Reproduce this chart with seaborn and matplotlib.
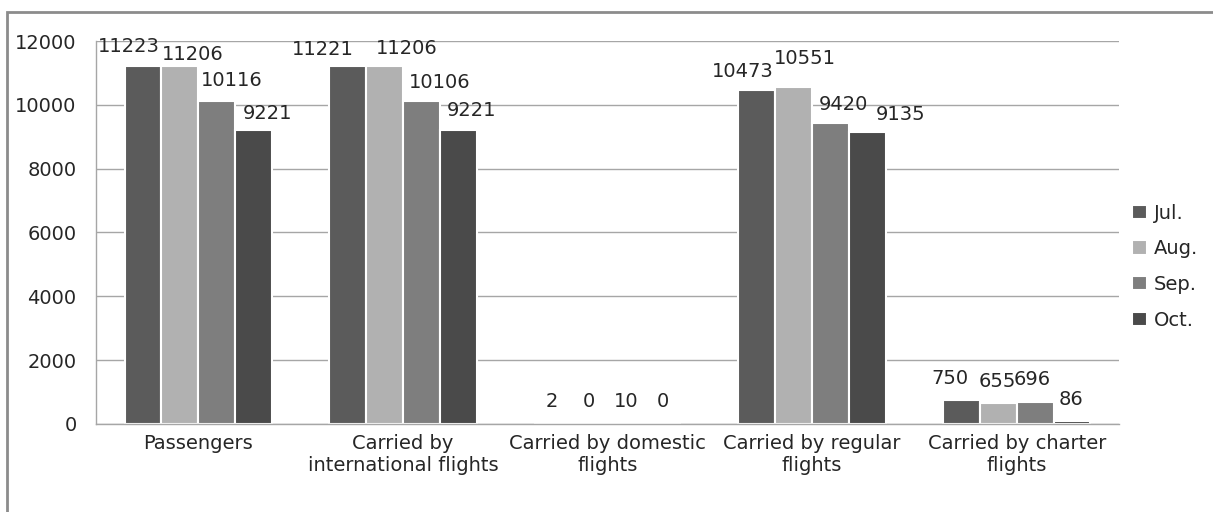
import matplotlib
matplotlib.use("Agg")
import matplotlib.pyplot as plt
from matplotlib.patches import Rectangle
import seaborn as sns
import pandas as pd

categories = ["Passengers", "Carried by\ninternational flights", "Carried by domestic\nflights",
              "Carried by regular\nflights", "Carried by charter\nflights"]
months = ["Jul.", "Aug.", "Sep.", "Oct."]
jul = [11223, 11221, 2, 10473, 750]
aug = [11206, 11206, 0, 10551, 655]
sep = [10116, 10106, 10, 9420, 696]
oct_ = [9221, 9221, 0, 9135, 86]
yticks = [0, 2000, 4000, 6000, 8000, 10000, 12000]

rows = []
for m, vals in zip(months, [jul, aug, sep, oct_]):
    for c, v in zip(categories, vals):
        rows.append({"category": c, "month": m, "value": v})
df = pd.DataFrame(rows)

sns.set_theme(style="white")
plt.rcParams["font.family"] = ["DejaVu Sans"]
text_color = "#262626"
fs = 14

fig = plt.figure(figsize=(12.13, 5.12), dpi=100)
ax = fig.add_axes([0.0791, 0.1719, 0.8434, 0.748])

palette = ["#5b5b5b", "#b1b1b1", "#7e7e7e", "#4a4a4a"]
sns.barplot(data=df, x="category", y="value", hue="month", order=categories,
            hue_order=months, palette=palette, width=0.72, saturation=1,
            edgecolor="white", linewidth=1.5, ax=ax, legend=True)

# label nudges (points) so neighbouring value labels stay readable
dx = [[-10, -18, 0, -10, -8],
      [9, 16, 0, 8, -1],
      [11, 13, 0, 9, -2],
      [10, 10, 0, 24, -1]]
dy = [[7, 5, 9, 6, 9],
      [2, 6, 9, 14, 9],
      [8, 7, 9, 7, 9],
      [5, 7, 9, 6, 9]]
for i, cont in enumerate(ax.containers):
    for j, bar in enumerate(cont):
        h = bar.get_height()
        ax.annotate(f"{int(h)}", (bar.get_x() + bar.get_width() / 2, h),
                    xytext=(dx[i][j], dy[i][j]), textcoords="offset points",
                    ha="center", va="bottom", fontsize=fs, color=text_color)

ax.set_ylim(0, 12000)
ax.set_xlim(-0.5, len(categories) - 0.5)
ax.set_yticks(yticks)
ax.set_yticklabels([str(t) for t in yticks], fontsize=fs, color=text_color)
ax.yaxis.grid(True, color="#a6a6a6", linewidth=1.0)
ax.set_axisbelow(True)
ax.set_xlabel("")
ax.set_ylabel("")
ax.tick_params(axis="x", which="major", length=0, labelsize=fs, labelcolor=text_color, pad=7)
ax.set_xticks([i + 0.5 for i in range(-1, len(categories))], minor=True)
ax.tick_params(axis="x", which="minor", length=8, width=1.0, color="#a6a6a6", direction="out")
ax.tick_params(axis="y", length=8, width=1.0, color="#a6a6a6", direction="out", pad=6)

for side in ["top", "right"]:
    ax.spines[side].set_visible(False)
for side in ["left", "bottom"]:
    ax.spines[side].set_color("#a6a6a6")
    ax.spines[side].set_linewidth(1.0)

handles, labels = ax.get_legend_handles_labels()
ax.get_legend().remove()
fig.legend(handles, labels, loc="center left", bbox_to_anchor=(0.9335, 0.479),
           frameon=False, fontsize=fs, handlelength=0.75, handleheight=0.75,
           handletextpad=0.35, labelspacing=0.86, labelcolor=text_color,
           borderaxespad=0, borderpad=0)

# outer chart-area border
fig.patches.append(Rectangle((7 / 1213, -0.05), 1.2, 1 - 12 / 512 + 0.05,
                             transform=fig.transFigure, fill=False,
                             edgecolor="#8c8c8c", linewidth=2, zorder=0))

fig.savefig("out.png", dpi=100)
